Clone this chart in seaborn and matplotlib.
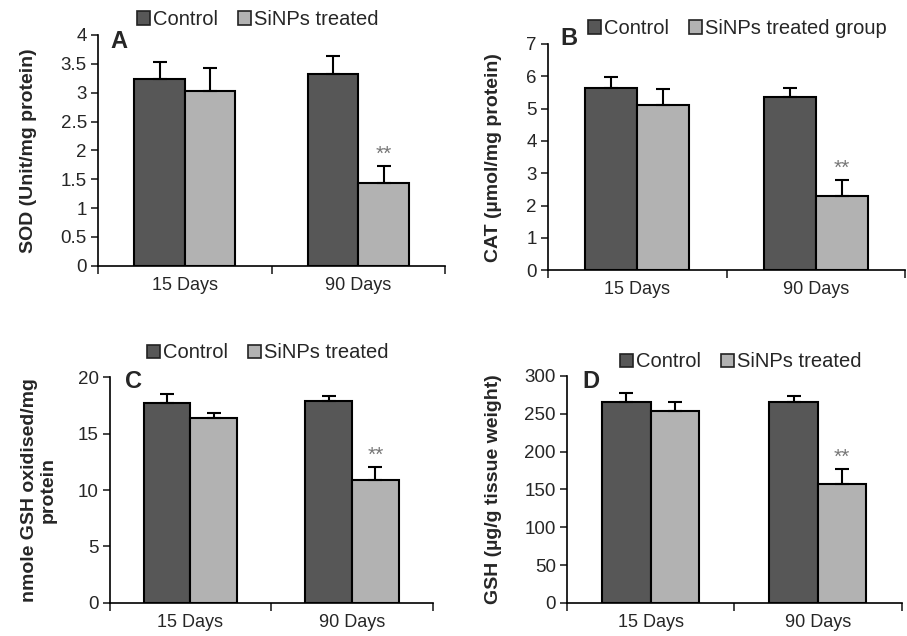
import matplotlib
matplotlib.use("Agg")
import matplotlib.pyplot as plt
import seaborn as sns
import pandas as pd
import numpy as np
from matplotlib.patches import Patch

sns.set_style("ticks")
plt.rcParams['font.family'] = ['Liberation Sans', 'DejaVu Sans']

days = ["15 Days", "90 Days"]
groups = ["Control", "SiNPs treated"]

sod_control = [3.24, 3.32]
sod_treated = [3.03, 1.43]
sod_control_err = [0.29, 0.31]
sod_treated_err = [0.39, 0.30]

cat_control = [5.64, 5.36]
cat_treated = [5.12, 2.30]
cat_control_err = [0.34, 0.28]
cat_treated_err = [0.48, 0.48]

gsho_control = [17.73, 17.88]
gsho_treated = [16.4, 10.86]
gsho_control_err = [0.74, 0.41]
gsho_treated_err = [0.44, 1.14]

gsh_control = [265.6, 265.6]
gsh_treated = [253.7, 157.0]
gsh_control_err = [12.4, 7.9]
gsh_treated_err = [12.3, 20.0]

panels = [
    dict(letter="A", ctrl=sod_control, trt=sod_treated, ce=sod_control_err, te=sod_treated_err,
         ylabel="SOD (Unit/mg protein)", ylim=4, yticks=[0, 0.5, 1, 1.5, 2, 2.5, 3, 3.5, 4],
         yticklabels=["0", "0.5", "1", "1.5", "2", "2.5", "3", "3.5", "4"],
         legend=["Control", "SiNPs treated"],
         rect=[0.108, 0.582, 0.383, 0.363], leg_xy=(0.46, 1.025), ylab_x=-0.176,
         let_xy=(0.035, 0.944)),
    dict(letter="B", ctrl=cat_control, trt=cat_treated, ce=cat_control_err, te=cat_treated_err,
         ylabel="CAT (µmol/mg protein)", ylim=7, yticks=[0, 1, 2, 3, 4, 5, 6, 7],
         yticklabels=["0", "1", "2", "3", "4", "5", "6", "7"],
         legend=["Control", "SiNPs treated group"],
         rect=[0.604, 0.575, 0.394, 0.356], leg_xy=(0.53, 1.025), ylab_x=-0.129,
         let_xy=(0.034, 0.996)),
    dict(letter="C", ctrl=gsho_control, trt=gsho_treated, ce=gsho_control_err, te=gsho_treated_err,
         ylabel="nmole GSH oxidised/mg\nprotein", ylim=20, yticks=[0, 5, 10, 15, 20],
         yticklabels=["0", "5", "10", "15", "20"],
         legend=["Control", "SiNPs treated"],
         rect=[0.121, 0.052, 0.356, 0.355], leg_xy=(0.49, 1.065), ylab_x=-0.164,
         let_xy=(0.046, 0.951)),
    dict(letter="D", ctrl=gsh_control, trt=gsh_treated, ce=gsh_control_err, te=gsh_treated_err,
         ylabel="GSH (µg/g tissue weight)", ylim=300, yticks=[0, 50, 100, 150, 200, 250, 300],
         yticklabels=["0", "50", "100", "150", "200", "250", "300"],
         legend=["Control", "SiNPs treated"],
         rect=[0.625, 0.052, 0.369, 0.357], leg_xy=(0.52, 1.02), ylab_x=-0.194,
         let_xy=(0.045, 0.947)),
]

dark = "#575757"
light = "#b2b2b2"

fig = plt.figure(figsize=(9.07, 6.36), dpi=100)

for p in panels:
    ax = fig.add_axes(p["rect"])
    df = pd.DataFrame({
        "day": days * 2,
        "group": [groups[0]] * 2 + [groups[1]] * 2,
        "value": list(p["ctrl"]) + list(p["trt"]),
        "err": list(p["ce"]) + list(p["te"]),
    })
    sns.barplot(data=df, x="day", y="value", hue="group", hue_order=groups,
                palette=[dark, light], width=0.58, errorbar=None,
                edgecolor="black", linewidth=1.5, ax=ax, legend=False)
    bars = [b for b in ax.patches if b.get_height() > 0]
    errs = list(p["ce"]) + list(p["te"])
    for b, e in zip(bars, errs):
        xc = b.get_x() + b.get_width() / 2
        h = b.get_height()
        ax.errorbar([xc], [h], yerr=[[0], [e]], fmt="none", ecolor="black",
                    elinewidth=1.5, capsize=5, capthick=1.5)
    b = bars[3]
    xc = b.get_x() + b.get_width() / 2
    ax.text(xc, b.get_height() + errs[3] + p["ylim"] * 0.01, "**", ha="center", va="bottom",
            fontsize=15, color="#777777")
    ax.set_xlim(-0.5, 1.5)
    ax.set_ylim(0, p["ylim"])
    ax.set_yticks(p["yticks"])
    ax.set_yticklabels(p["yticklabels"], fontsize=13.5)
    ax.set_xticks([-0.5, 0.5, 1.5])
    ax.set_xticklabels([])
    ax.set_xticks([0, 1], minor=True)
    ax.set_xticklabels(days, minor=True, fontsize=13)
    ax.tick_params(axis="x", which="minor", length=0, pad=8)
    ax.tick_params(axis="x", which="major", length=6, width=1.2, direction="out")
    ax.tick_params(axis="y", length=5, width=1.2, direction="out", pad=3)
    ax.set_xlabel("")
    ax.set_ylabel(p["ylabel"], fontsize=14, fontweight="bold", linespacing=1.1)
    ax.yaxis.set_label_coords(p["ylab_x"], 0.5)
    sns.despine(ax=ax)
    for s in ["left", "bottom"]:
        ax.spines[s].set_linewidth(1.2)
        ax.spines[s].set_color("black")
    ax.text(p["let_xy"][0], p["let_xy"][1], p["letter"], transform=ax.transAxes, fontsize=17,
            fontweight="bold", ha="left", va="baseline")
    handles = [Patch(facecolor=dark, edgecolor="#222222", linewidth=1.2),
               Patch(facecolor=light, edgecolor="#222222", linewidth=1.2)]
    ax.legend(handles, p["legend"], loc="lower center", bbox_to_anchor=p["leg_xy"],
              ncol=2, frameon=False, fontsize=14.5, handlelength=0.65, handleheight=0.65,
              handletextpad=0.15, columnspacing=1.0, borderaxespad=0.0, borderpad=0.0)

fig.savefig("out.png", dpi=100)
